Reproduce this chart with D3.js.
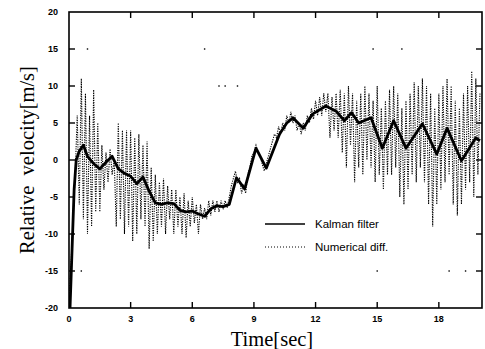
<!DOCTYPE html>
<html>
<head>
<meta charset="utf-8">
<script src="https://cdn.jsdelivr.net/npm/d3@7/dist/d3.min.js"></script>
<style>
  body { margin: 0; background: #fff; }
  .tick-label { font-family: "Liberation Sans", Arial, sans-serif; font-size: 9px; font-weight: bold; }
  .axis-title { font-family: "Liberation Serif", "Times New Roman", serif; font-size: 20.5px; }
  .legend-text { font-family: "Liberation Sans", Arial, sans-serif; font-size: 11.5px; }
</style>
</head>
<body>
<svg width="485" height="349"></svg>
<script>
// Kalman filter estimate as (time, velocity) knots
const kalmanTime = [0.05, 0.15, 0.25, 0.35, 0.5, 0.7, 0.9, 1.2, 1.5, 1.8, 2.1, 2.4, 2.7, 3.0, 3.3, 3.6, 3.9, 4.2, 4.5, 4.8,
  5.1, 5.4, 5.7, 6.0, 6.3, 6.6, 6.9, 7.2, 7.5, 7.8, 8.15, 8.55, 9.1, 9.6, 10.25, 10.6, 10.9, 11.4, 11.85, 12.5,
  13.0, 13.4, 13.75, 14.1, 14.7, 15.25, 15.8, 16.4, 17.2, 17.9, 18.4, 19.1, 19.8, 20.0];
const kalmanVel = [-20, -12, -4, 0, 1.2, 2.0, 0.5, -0.5, -1.2, -0.3, 0.5, -1.2, -1.8, -2.2, -3.2, -2.3, -4.2, -5.8, -6.0, -5.8,
  -5.9, -6.8, -7.0, -6.9, -7.3, -7.6, -6.6, -6.2, -6.3, -6.0, -2.4, -3.9, 1.6, -1.1, 3.5, 5.0, 5.7, 4.3, 6.2, 7.3,
  6.6, 5.3, 6.4, 5.0, 5.7, 1.6, 5.3, 1.6, 4.9, 0.8, 4.3, -0.1, 3.0, 2.6];

// numerical differentiation, one value every 0.1 s from t = 0
const diffStep = 0.1;
const diffVel = [
  -19, -14, -8, -2, 6, -6, 11, -8, 9, -10, 6, -9, 9.5, -7, 5, -7, 2, -4, 1, -3,
  1.5, -2, 0, -9, 5, -8, 4, -10, 4, -9, 4, -11, 3, -10, 3.5, -8, 2, -9, 2.5, -12,
  -1, -11, -2, -10, -3, -9, -2.5, -10, -3.5, -8, -4, -10, -4, -9, -5, -10, -4.5, -10.5, -5.5, -9,
  -5, -8.5, -6, -10, -6, -8, -6.5, -8, -5.5, -7.5, -5.5, -7, -5.5, -7, -5.5, -6.5, -5.5, -6.5, -5, -3.5,
  -2.5, -1.5, -3, -2.5, -4.5, -3.5, -4.5, -2, -1, 0.5, 1, 2, 1, 0.5, -0.5, -1.5, -0.5, 0.5, 1.5, 2.5,
  3.5, 3, 4.5, 3.5, 5, 4, 6, 5, 6.5, 5, 6, 4, 5, 3.5, 5, 4, 6, 5, 7, 5.5,
  8, 6, 8.5, 6, 9, 6.5, 9, 3, 8.5, 4, 9, 3, 9.5, 1, 9, -1, 10, 2, 9, -3,
  8, -1, 9, -2, 10, 0, 9, -1, 8, -3, 10, -2, 7, -4, 8, -2, 9.5, -2, 10, -1,
  9, -5, 7, -6, 8, -4, 9, -2, 10.5, -3, 10, -1, 11, -3, 10, -6, 9, -9, 7, -6,
  9, -4, 10, -3, 11, -2, 10, -6, 8, -7.5, 7, -6, 9, -4, 10, -3, 12, -5, 11, -2,
  9];

// stray isolated dots in the picture
const strayTime = [0.9, 6.6, 14.8, 16.2, 7.3, 7.6, 8.2, 0.6, 15.0, 18.5, 19.3];
const strayVel = [15, 15, 15, 15, 10, 10, 10, -15, -15, -15, -15];

const xTicks = [0, 3, 6, 9, 12, 15, 18];
const yTicks = [-20, -15, -10, -5, 0, 5, 10, 15, 20];
const legendLabels = ["Kalman filter", "Numerical diff."];

const margin = {top: 12, right: 3, bottom: 41, left: 69};
const W = 485, H = 349;
const width = W - margin.left - margin.right;
const height = H - margin.top - margin.bottom;

const svg = d3.select('svg');
const g = svg.append('g')
  .attr('transform', 'translate(' + margin.left + ',' + margin.top + ')');

const x = d3.scaleLinear().domain([0, 20.1]).range([0, width]);
const y = d3.scaleLinear().domain([-20, 20]).range([height, 0]);

g.append('defs').append('clipPath').attr('id', 'clip')
  .append('rect').attr('width', width).attr('height', height);

// numerical diff (dotted)
const diffData = diffVel.map((v, i) => [i * diffStep, v]);
const line = d3.line().x(d => x(d[0])).y(d => y(d[1]));

g.append('path')
  .datum(diffData)
  .attr('clip-path', 'url(#clip)')
  .attr('d', line)
  .attr('fill', 'none')
  .attr('stroke', '#000')
  .attr('stroke-width', 1.1)
  .attr('stroke-dasharray', '1.2,1.2');

// Kalman filter (solid)
g.append('path')
  .datum(kalmanTime.map((t, i) => [t, kalmanVel[i]]))
  .attr('clip-path', 'url(#clip)')
  .attr('d', line)
  .attr('fill', 'none')
  .attr('stroke', '#000')
  .attr('stroke-width', 2.8)
  .attr('stroke-linejoin', 'round');

g.append('g')
  .selectAll('rect')
  .data(strayTime)
  .enter()
  .append('rect')
  .attr('x', (d) => x(d) - 0.7)
  .attr('y', (d, i) => y(strayVel[i]) - 0.7)
  .attr('width', 1.4)
  .attr('height', 1.4)
  .attr('fill', '#000');

// frame
g.append('rect')
  .attr('width', width)
  .attr('height', height)
  .attr('fill', 'none')
  .attr('stroke', '#000')
  .attr('stroke-width', 1.6);

// inward ticks, all four sides
const tickG = g.append('g').attr('stroke', '#000').attr('stroke-width', 1.4);
xTicks.filter(t => t > 0).forEach(t => {
  tickG.append('line').attr('x1', x(t)).attr('x2', x(t)).attr('y1', height).attr('y2', height - 6);
  tickG.append('line').attr('x1', x(t)).attr('x2', x(t)).attr('y1', 0).attr('y2', 6);
});
yTicks.filter(t => t > -20 && t < 20).forEach(t => {
  tickG.append('line').attr('x1', 0).attr('x2', 6).attr('y1', y(t)).attr('y2', y(t));
  tickG.append('line').attr('x1', width).attr('x2', width - 6).attr('y1', y(t)).attr('y2', y(t));
});

// tick labels
g.append('g').selectAll('text')
  .data(xTicks).enter().append('text')
  .attr('class', 'tick-label')
  .attr('x', d => x(d))
  .attr('y', height + 14)
  .attr('text-anchor', 'middle')
  .text(d => d);

g.append('g').selectAll('text')
  .data(yTicks).enter().append('text')
  .attr('class', 'tick-label')
  .attr('x', -11)
  .attr('y', d => y(d) + 3)
  .attr('text-anchor', 'end')
  .text(d => d);

// axis titles
svg.append('text')
  .attr('class', 'axis-title')
  .attr('x', 272)
  .attr('y', 346)
  .attr('text-anchor', 'middle')
  .text('Time[sec]');

svg.append('text')
  .attr('class', 'axis-title')
  .attr('transform', 'translate(34,160) rotate(-90)')
  .attr('text-anchor', 'middle')
  .attr('xml:space', 'preserve')
  .style('white-space', 'pre')
  .text('Relative  velocity[m/s]');

// legend
const legend = svg.append('g');
legend.append('line')
  .attr('x1', 265).attr('x2', 305).attr('y1', 224).attr('y2', 224)
  .attr('stroke', '#000').attr('stroke-width', 1.3);
legend.append('line')
  .attr('x1', 265).attr('x2', 305).attr('y1', 247).attr('y2', 247)
  .attr('stroke', '#000').attr('stroke-width', 1).attr('stroke-dasharray', '1,2');
legend.selectAll('text')
  .data(legendLabels).enter().append('text')
  .attr('class', 'legend-text')
  .attr('x', 315)
  .attr('y', (d, i) => 228 + i * 23)
  .text(d => d);
</script>
</body>
</html>
